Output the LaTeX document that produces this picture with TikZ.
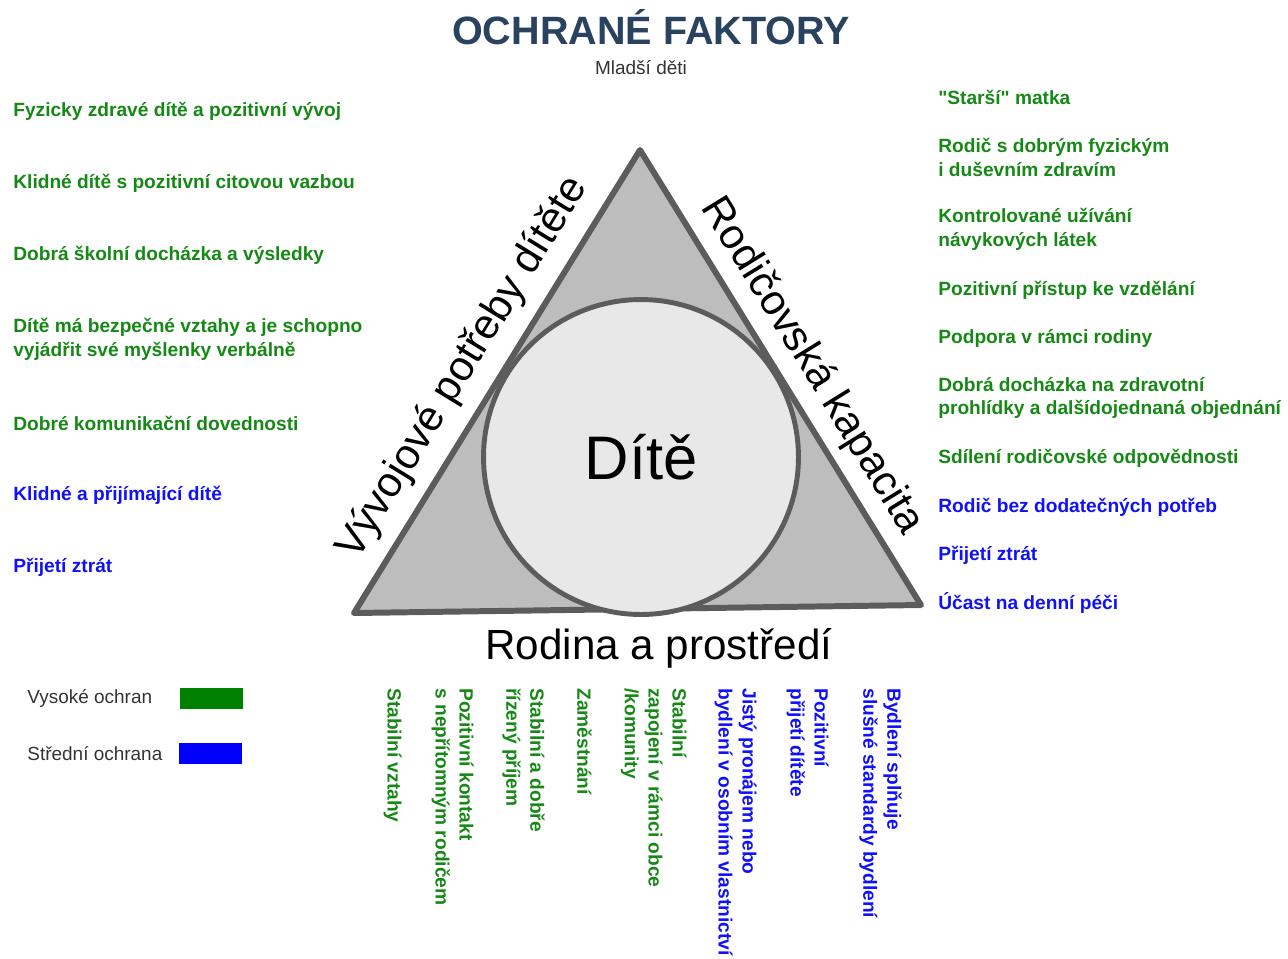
\documentclass[tikz,border=0pt]{standalone}
\usepackage{fontspec}
\setmainfont{Liberation Sans}[Ligatures=TeXOff]
\definecolor{zelena}{RGB}{22,136,22}
\definecolor{modra}{RGB}{16,16,250}
\definecolor{nadpis}{RGB}{40,66,96}
\definecolor{obrys}{RGB}{92,92,92}
\definecolor{tmava}{RGB}{51,51,51}

\begin{document}
\begin{tikzpicture}[x=0.02cm,y=-0.02cm,
  every node/.style={inner sep=0pt},
  vysoka/.style={font=\fontsize{10.9}{13.6}\selectfont\bfseries,text=zelena,align=left,anchor=west},
  stredni/.style={vysoka,text=modra},
  svisla/.style={rotate=-90,anchor=north west},
  strana/.style={font=\fontsize{24}{28}\selectfont},
  legenda/.style={font=\fontsize{10.8}{13}\selectfont,text=tmava,anchor=west},
  ctverec/.style={minimum width=1.26cm,minimum height=0.42cm}]
  \useasboundingbox (0,0) rectangle (1288,958);
  \node[font=\fontsize{22.5}{26}\selectfont\bfseries,text=nadpis] (t) at (651,27) {OCHRANÉ FAKTORY};
  \node[font=\fontsize{10.8}{13}\selectfont,text=tmava] (m) at (641,68) {Mladší děti};

  % trojuhelnik s kruhem
  \coordinate (A) at (640,150);
  \coordinate (B) at (354,613);
  \coordinate (C) at (921,605);
  \filldraw[fill=black!26,draw=obrys,line width=3.4pt,line join=round] (A) -- (B) -- (C) -- cycle;
  \node[circle,draw=obrys,fill=black!9,line width=2.8pt,minimum size=6.3cm,
    font=\fontsize{35}{40}\selectfont] (d) at (641,457) {Dítě};
  \node[strana,rotate=58.4] (v) at (463,368) {Vývojové potřeby dítěte};
  \node[strana,rotate=-58.3] (k) at (812,366) {Rodičovská kapacita};
  \node[strana] (p) at (659,648) {Rodina a prostředí};

  % vlevo
  \node[vysoka] (l1) at (13,111) {Fyzicky zdravé dítě a pozitivní vývoj};
  \node[vysoka] (l2) at (13,183) {Klidné dítě s pozitivní citovou vazbou};
  \node[vysoka] (l3) at (13,255) {Dobrá školní docházka a výsledky};
  \node[vysoka] (l4) at (13,339) {Dítě má bezpečné vztahy a je schopno\\vyjádřit své myšlenky verbálně};
  \node[vysoka] (l5) at (13,423) {Dobré komunikační dovednosti};
  \node[stredni] (l6) at (13,495) {Klidné a přijímající dítě};
  \node[stredni] (l7) at (13,567) {Přijetí ztrát};

  % vpravo
  \node[vysoka] (r1) at (938,97) {"Starší" matka};
  \node[vysoka] (r2) at (938,157) {Rodič s dobrým fyzickým\\i duševním zdravím};
  \node[vysoka] (r3) at (938,229) {Kontrolované užívání\\návykových látek};
  \node[vysoka] (r4) at (938,290) {Pozitivní přístup ke vzdělání};
  \node[vysoka] (r5) at (938,338) {Podpora v rámci rodiny};
  \node[vysoka] (r6) at (938,398) {Dobrá docházka na zdravotní\\prohlídky a dalšídojednaná objednání};
  \node[vysoka] (r7) at (938,458) {Sdílení rodičovské odpovědnosti};
  \node[stredni] (r8) at (938,507) {Rodič bez dodatečných potřeb};
  \node[stredni] (r9) at (938,555) {Přijetí ztrát};
  \node[stredni] (r10) at (938,603) {Účast na denní péči};

  % dole
  \node[vysoka,svisla] (b1) at (402,688) {Stabilní vztahy};
  \node[vysoka,svisla] (b2) at (474,688) {Pozitivní kontakt\\s nepřítomným rodičem};
  \node[vysoka,svisla] (b3) at (545,688) {Stabilní a dobře\\řízený příjem};
  \node[vysoka,svisla] (b4) at (592,688) {Zaměstnání};
  \node[vysoka,svisla] (b5) at (687,688) {Stabilní\\zapojení v rámci obce\\/komunity};
  \node[stredni,svisla] (b6) at (757,688) {Jistý pronájem nebo\\bydlení v osobním vlastnictví};
  \node[stredni,svisla] (b7) at (829,688) {Pozitivní\\přijetí dítěte};
  \node[stredni,svisla] (b8) at (902,688) {Bydlení splňuje\\slušné standardy bydlení};

  % legenda
  \node[legenda] (lv) at (27,698) {Vysoké ochran};
  \node[ctverec,fill={rgb,255:red,0;green,128;blue,0}] (kv) at (211.5,698.5) {};
  \node[legenda] (ls) at (27,754) {Střední ochrana};
  \node[ctverec,fill=blue] (ks) at (210.5,753.5) {};
\end{tikzpicture}
\end{document}
